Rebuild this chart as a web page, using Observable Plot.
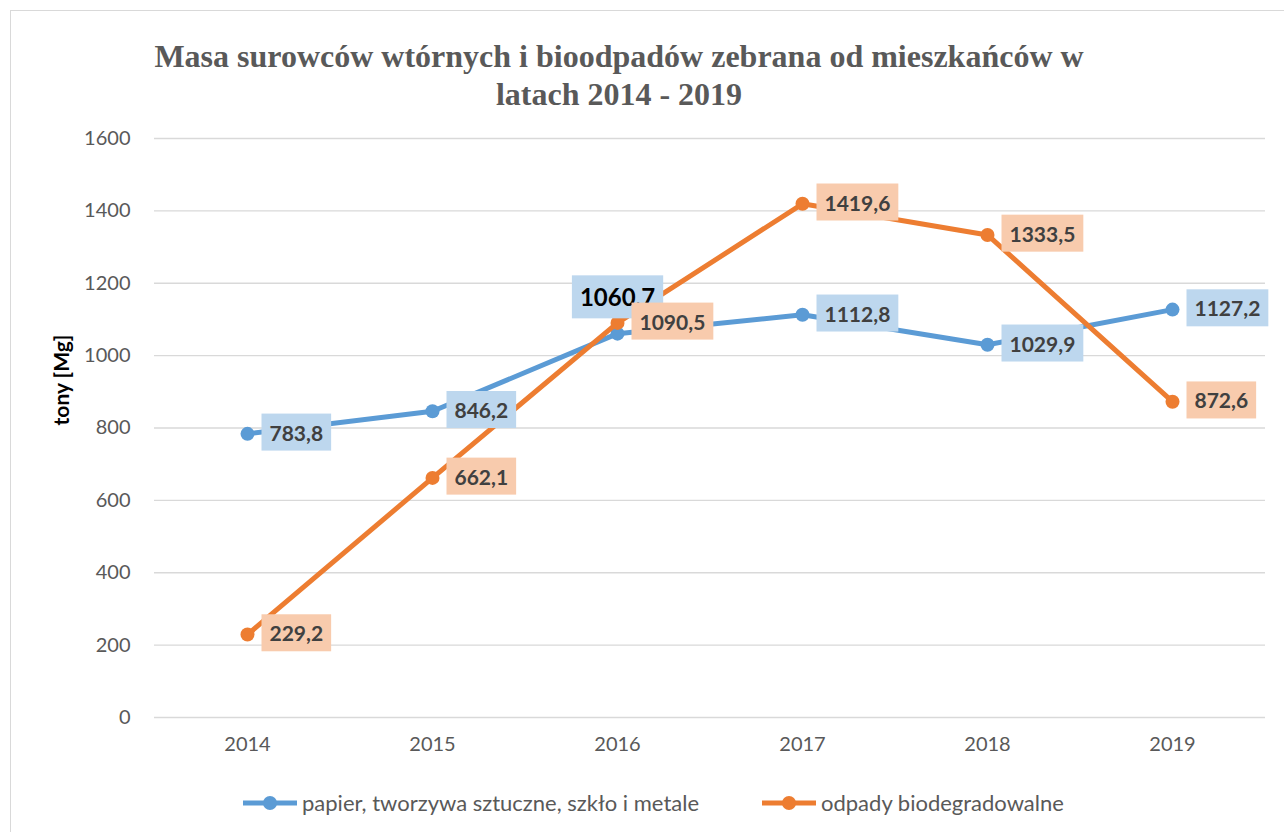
<!DOCTYPE html>
<html><head><meta charset="utf-8">
<script src="https://cdn.jsdelivr.net/npm/d3@7"></script>
<script src="https://cdn.jsdelivr.net/npm/@observablehq/plot@0.6"></script>
<style>
body{margin:0;width:1284px;height:832px;overflow:hidden;background:#fff;position:relative;font-family:Lato,sans-serif}
#frame{position:absolute;left:10px;top:10px;width:1400px;height:1000px;border:1.5px solid #d9d9d9;box-sizing:border-box}
#title{position:absolute;left:0;top:37px;width:1238px;text-align:center;font-family:"Liberation Serif",serif;font-weight:bold;font-size:32px;color:#595959;line-height:38px}
#chart{position:absolute;left:0;top:118px}
#ylabel{position:absolute;left:60px;top:380px;transform:translate(-50%,-50%) rotate(-90deg);font-weight:bold;font-size:21px;color:#000;white-space:nowrap}
.leg{position:absolute;top:789px;display:flex;align-items:center;font-size:22px;color:#595959;white-space:nowrap}
.leg svg{margin-right:5px}
</style></head>
<body>
<div id="frame"></div>
<div id="title">Masa surowców wtórnych i bioodpadów zebrana od mieszkańców w<br>latach 2014 - 2019</div>
<div id="ylabel">tony [Mg]</div>
<div id="chart"></div>
<div id="legend"></div>
<script>
const years = ["2014", "2015", "2016", "2017", "2018", "2019"];
const seriesNames = ["papier, tworzywa sztuczne, szkło i metale", "odpady biodegradowalne"];
const recyclables = [783.8, 846.2, 1060.7, 1112.8, 1029.9, 1127.2];
const biowaste = [229.2, 662.1, 1090.5, 1419.6, 1333.5, 872.6];
const yTicks = [0, 200, 400, 600, 800, 1000, 1200, 1400, 1600];

const colors = ["#5B9BD5", "#ED7D31"];
const boxColors = ["#BDD7EE", "#F8CBAD"];

const rows = [];
[recyclables, biowaste].forEach((vals, s) => vals.forEach((v, i) => rows.push({year: years[i], value: v, s})));
const fmt = v => v.toFixed(1).replace(".", ",");
const sData = s => rows.filter(d => d.s === s);
const isSpecial = d => d.s === 0 && d.year === "2016";

const marks = [
  Plot.gridY(yTicks, {stroke: "#d9d9d9", strokeOpacity: 1, strokeWidth: 1.3}),
  Plot.axisY(yTicks, {tickSize: 0, tickPadding: 24, fontSize: 20, fill: "#595959", label: null, tickFormat: d => String(d)}),
  Plot.axisX({tickSize: 0, tickPadding: 19, fontSize: 20, fill: "#595959", label: null})
];
[0, 1].forEach(s => {
  marks.push(Plot.line(sData(s), {x: "year", y: "value", stroke: colors[s], strokeWidth: 5}));
  marks.push(Plot.dot(sData(s), {x: "year", y: "value", fill: colors[s], r: 7}));
});
[0, 1].forEach(s => {
  marks.push(Plot.text(sData(s).filter(d => !isSpecial(d)), {
    x: "year", y: "value", text: d => fmt(d.value), textAnchor: "start", dx: 22,
    fontSize: 21, fontWeight: "bold", fill: "#404040", className: "lbl" + s
  }));
  if (s === 0) marks.push(Plot.text(sData(s).filter(isSpecial), {
    x: "year", y: "value", text: d => fmt(d.value), textAnchor: "middle", dy: -35,
    fontSize: 24, fontWeight: "bold", fill: "#000", className: "lblsp"
  }));
});

const chart = Plot.plot({
  width: 1284, height: 700,
  marginLeft: 154, marginRight: 19, marginTop: 20, marginBottom: 101,
  style: {fontFamily: "Lato, sans-serif", background: "transparent", overflow: "visible"},
  x: {type: "point", domain: years, padding: 0.5},
  y: {domain: [0, 1600]},
  marks
});
document.getElementById("chart").append(chart);

function boxes(cls, color, padX, padY) {
  chart.querySelectorAll(`.${cls} text`).forEach(t => {
    const b = t.getBBox();
    const r = document.createElementNS("http://www.w3.org/2000/svg", "rect");
    r.setAttribute("x", b.x - padX); r.setAttribute("y", b.y - padY);
    r.setAttribute("width", b.width + 2 * padX); r.setAttribute("height", b.height + 2 * padY);
    r.setAttribute("fill", color);
    const tr = t.getAttribute("transform"); if (tr) r.setAttribute("transform", tr);
    t.parentNode.insertBefore(r, t);
  });
}
boxes("lbl0", boxColors[0], 8, 6);
boxes("lblsp", boxColors[0], 8, 7);
boxes("lbl1", boxColors[1], 8, 6);

const legend = document.getElementById("legend");
const legLeft = [243, 762];
seriesNames.forEach((name, s) => {
  const item = document.createElement("div");
  item.className = "leg"; item.style.left = legLeft[s] + "px";
  item.innerHTML = `<svg width="54" height="24"><line x1="0" x2="54" y1="12" y2="12" stroke="${colors[s]}" stroke-width="5"/><circle cx="27" cy="12" r="7" fill="${colors[s]}"/></svg><span>${name}</span>`;
  legend.append(item);
});
</script>
</body></html>
